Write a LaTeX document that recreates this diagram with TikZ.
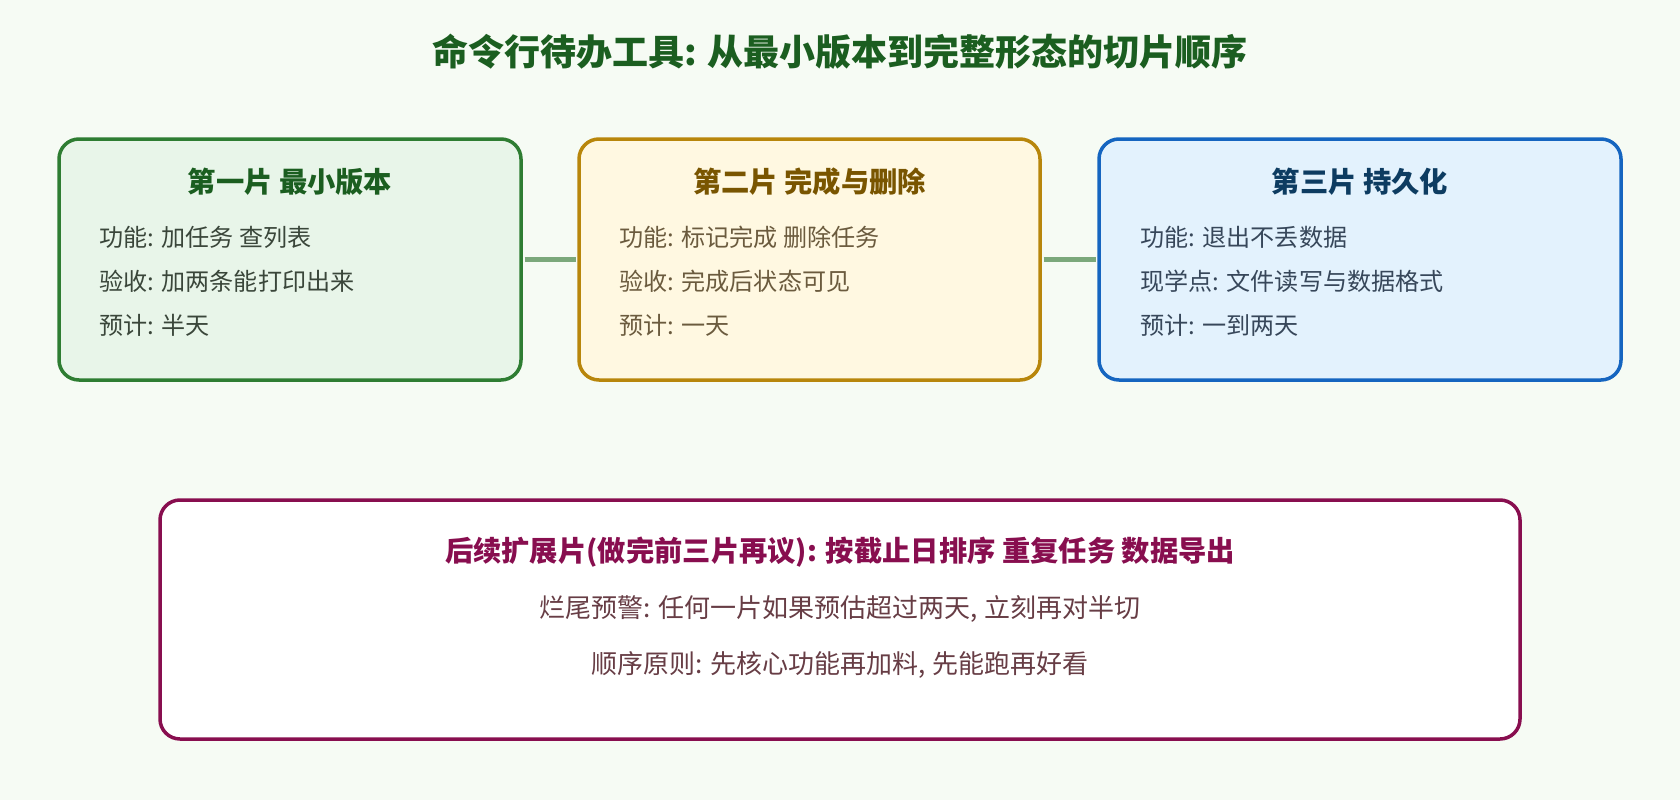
\documentclass[tikz,border=0pt]{standalone}
\usepackage{fontspec}
\setmainfont{Noto Sans CJK SC}
\usepackage{xcolor}
\usepackage{tikz}
\usetikzlibrary{positioning}
\definecolor{bgc}{HTML}{F6FBF4}
\definecolor{titlec}{HTML}{1B5E20}
\definecolor{linkc}{HTML}{7BA87B}
\definecolor{oneline}{HTML}{2E7D32}
\definecolor{onefill}{HTML}{E8F5E9}
\definecolor{onehead}{HTML}{1B5E20}
\definecolor{onetext}{HTML}{3A463A}
\definecolor{twoline}{HTML}{B8860B}
\definecolor{twofill}{HTML}{FFF8E1}
\definecolor{twohead}{HTML}{795500}
\definecolor{twotext}{HTML}{6B5B3E}
\definecolor{threeline}{HTML}{1565C0}
\definecolor{threefill}{HTML}{E3F2FD}
\definecolor{threehead}{HTML}{0D3C61}
\definecolor{threetext}{HTML}{37475A}
\definecolor{extline}{HTML}{880E4F}
\definecolor{exttext}{HTML}{673D45}

\begin{document}
\begin{tikzpicture}[x=1pt,y=-1pt]
\fill[bgc] (0,0) rectangle (1680,800);
\useasboundingbox (0,0) rectangle (1680,800);

\tikzstyle{slice} = [draw, rectangle, rounded corners=20pt,
	line width=3.5pt, minimum height=241pt];
\tikzstyle{head} = [font=\fontsize{28.3}{33}\selectfont\bfseries];
\tikzstyle{item} = [anchor=west, font=\fontsize{24.1}{29}\selectfont];
\tikzstyle{note} = [font=\fontsize{26}{31}\selectfont, text=exttext];
\tikzstyle{link} = [draw=linkc, line width=5pt,
	shorten <=1.75pt, shorten >=1.75pt];

% title
\node[font=\fontsize{36}{42}\selectfont\bfseries, text=titlec] (title) at (840,52)
	{命令行待办工具: 从最小版本到完整形态的切片顺序};

% the three slices
\node[slice, draw=oneline, fill=onefill, minimum width=462pt] (one) at (290,259.5) {};
\node[slice, draw=twoline, fill=twofill, minimum width=461pt] (two) at (809.5,259.5) {};
\node[slice, draw=threeline, fill=threefill, minimum width=522pt] (three) at (1360,259.5) {};

\draw[link] (one.east) -- (two.west);
\draw[link] (two.east) -- (three.west);

\node[head, text=onehead] (oneh) at (290,182) {第一片 最小版本};
\node[item, text=onetext] (onea) at (96,237) {功能: 加任务 查列表};
\node[item, text=onetext] (oneb) at (96,281) {验收: 加两条能打印出来};
\node[item, text=onetext] (onec) at (96,325) {预计: 半天};

\node[head, text=twohead] (twoh) at (809.5,182) {第二片 完成与删除};
\node[item, text=twotext] (twoa) at (616,237) {功能: 标记完成 删除任务};
\node[item, text=twotext] (twob) at (616,281) {验收: 完成后状态可见};
\node[item, text=twotext] (twoc) at (616,325) {预计: 一天};

\node[head, text=threehead] (threeh) at (1360,182) {第三片 持久化};
\node[item, text=threetext] (threea) at (1137,237) {功能: 退出不丢数据};
\node[item, text=threetext] (threeb) at (1137,281) {现学点: 文件读写与数据格式};
\node[item, text=threetext] (threec) at (1137,325) {预计: 一到两天};

% later slices
\node[slice, draw=extline, fill=white, minimum width=1360pt, minimum height=239pt] (ext) at (840,619.5) {};
\node[head, text=extline] (exth) at (840,552.5) {后续扩展片(做完前三片再议): 按截止日排序 重复任务 数据导出};
\node[note] (exta) at (840,608.5) {烂尾预警: 任何一片如果预估超过两天, 立刻再对半切};
\node[note] (extb) at (840,664.5) {顺序原则: 先核心功能再加料, 先能跑再好看};

\end{tikzpicture}
\end{document}
